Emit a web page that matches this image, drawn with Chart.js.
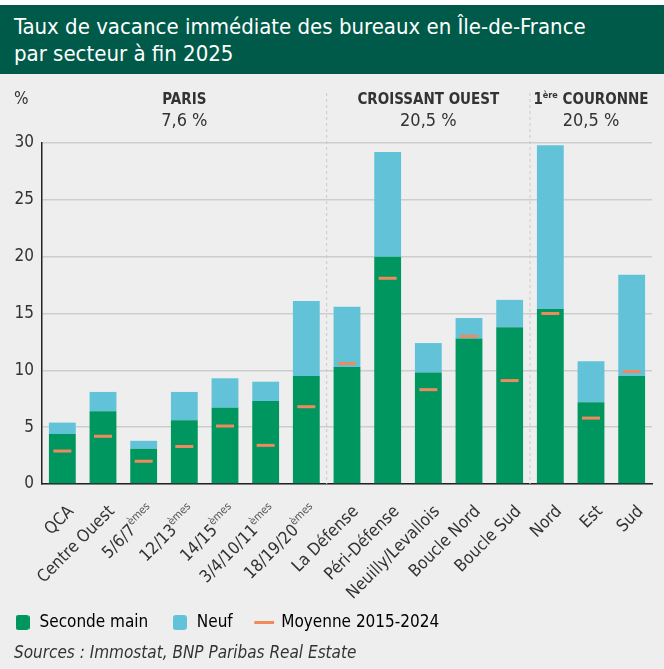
<!DOCTYPE html>
<html lang="fr">
<head>
<meta charset="utf-8">
<title>Taux de vacance immédiate des bureaux en Île-de-France</title>
<script src="https://cdn.jsdelivr.net/npm/chart.js@4.4.1/dist/chart.umd.min.js"></script>
<style>
  html, body { margin: 0; padding: 0; }
  body { width: 664px; height: 669px; background: #eeeeee; position: relative; overflow: hidden;
         font-family: "Liberation Sans Narrow", "DejaVu Sans Condensed", sans-serif; color: #333; }
  #top { position: absolute; left: 0; top: 0; width: 664px; height: 5px; background: #fff; }
  #header { position: absolute; left: 0; top: 5px; width: 664px; height: 69px; background: #005a49;
            color: #fff; font-size: 22px; line-height: 27px; box-sizing: border-box; padding: 8px 0 0 14px; }
  #wrap { position: absolute; left: 0; top: 74px; width: 664px; height: 580px; }
  #sources { position: absolute; left: 14px; top: 642px; font-size: 17px; font-style: italic; color: #333; }
</style>
</head>
<body>
<div id="top"></div>
<div id="header">Taux de vacance immédiate des bureaux en Île-de-France<br>par secteur à fin 2025</div>
<div id="wrap"><canvas id="chart"></canvas></div>
<div id="sources">Sources : Immostat, BNP Paribas Real Estate</div>
<script>
// secteurs
var secteurs = ['QCA', 'Centre Ouest', '5/6/7', '12/13', '14/15', '3/4/10/11', '18/19/20',
                'La Défense', 'Péri-Défense', 'Neuilly/Levallois', 'Boucle Nord', 'Boucle Sud',
                'Nord', 'Est', 'Sud'];
var exposants = ['', '', 'èmes', 'èmes', 'èmes', 'èmes', 'èmes', '', '', '', '', '', '', '', ''];

// taux en %
var secondeMain = [4.4, 6.4, 3.1, 5.6, 6.7, 7.3, 9.5, 10.3, 20.0, 9.8, 12.8, 13.8, 15.4, 7.2, 9.5];
var neuf        = [1.0, 1.7, 0.7, 2.5, 2.6, 1.7, 6.6, 5.3, 9.2, 2.6, 1.8, 2.4, 14.4, 3.6, 8.9];
var moyenne     = [2.9, 4.2, 2.0, 3.3, 5.1, 3.4, 6.8, 10.6, 18.1, 8.3, 13.0, 9.1, 15.0, 5.8, 9.9];

// groupes
var groupes    = ['PARIS', 'CROISSANT OUEST', 'COURONNE'];
var groupesPre = ['', '', '1'];
var groupesExp = ['', '', 'ère'];
var groupesTaux = ['7,6 %', '20,5 %', '20,5 %'];
var groupesDebut = [0, 7, 12];
var groupesFin   = [6, 11, 14];

var yTicks = [0, 5, 10, 15, 20, 25, 30];

var VERT = '#00965f';
var BLEU = '#62c3d8';
var ORANGE = '#ef8a5c';
var FONT = '"Liberation Sans Narrow", "DejaVu Sans Condensed", sans-serif';

function pastille(color) {
    var c = document.createElement('canvas');
    c.width = 14; c.height = 15;
    var g = c.getContext('2d');
    g.fillStyle = color;
    g.beginPath();
    g.roundRect(0, 0, 14, 15, 3);
    g.fill();
    return c;
}

var decor = {
    id: 'decor',
    beforeDatasetsDraw: function(chart) {
        var ctx = chart.ctx, x = chart.scales.x, a = chart.chartArea;
        ctx.save();
        ctx.strokeStyle = '#c9c9c9';
        ctx.lineWidth = 1;
        ctx.setLineDash([3, 3]);
        for (var g = 1; g < groupesDebut.length; g++) {
            var px = (x.getPixelForValue(groupesDebut[g]) + x.getPixelForValue(groupesDebut[g] - 1)) / 2;
            ctx.beginPath();
            ctx.moveTo(px, 19);
            ctx.lineTo(px, a.bottom);
            ctx.stroke();
        }
        ctx.restore();
    },
    afterDraw: function(chart) {
        var ctx = chart.ctx, x = chart.scales.x, a = chart.chartArea;
        ctx.save();
        ctx.fillStyle = '#333';
        // %
        ctx.font = '17px ' + FONT;
        ctx.textBaseline = 'middle';
        ctx.textAlign = 'left';
        ctx.fillText('%', 14, 26);
        // en-têtes de groupes
        for (var g = 0; g < groupes.length; g++) {
            var cx = (x.getPixelForValue(groupesDebut[g]) + x.getPixelForValue(groupesFin[g])) / 2;
            ctx.font = 'bold 15px ' + FONT;
            var wPre = ctx.measureText(groupesPre[g]).width;
            var wMain = ctx.measureText((groupesPre[g] ? ' ' : '') + groupes[g]).width;
            ctx.font = 'bold 9px ' + FONT;
            var wExp = ctx.measureText(groupesExp[g]).width;
            var sx = cx - (wPre + wExp + wMain) / 2;
            ctx.textAlign = 'left';
            ctx.font = 'bold 15px ' + FONT;
            ctx.fillText(groupesPre[g], sx, 26);
            ctx.font = 'bold 9px ' + FONT;
            ctx.fillText(groupesExp[g], sx + wPre, 22);
            ctx.font = 'bold 15px ' + FONT;
            ctx.fillText((groupesPre[g] ? ' ' : '') + groupes[g], sx + wPre + wExp, 26);
            ctx.font = '18px ' + FONT;
            ctx.textAlign = 'center';
            ctx.fillText(groupesTaux[g], cx, 47);
        }
        // libellés x inclinés
        for (var i = 0; i < secteurs.length; i++) {
            var px = x.getPixelForValue(i);
            ctx.save();
            ctx.translate(px + 9, a.bottom + 25);
            ctx.rotate(-Math.PI / 4);
            ctx.textBaseline = 'middle';
            ctx.textAlign = 'right';
            var wSup = 0;
            if (exposants[i]) {
                ctx.font = '11px ' + FONT;
                ctx.fillStyle = '#555';
                wSup = ctx.measureText(exposants[i]).width;
                ctx.fillText(exposants[i], 0, -6);
            }
            ctx.fillStyle = '#333';
            ctx.font = '17px ' + FONT;
            ctx.fillText(secteurs[i], -wSup, 0);
            ctx.restore();
        }
        ctx.restore();
    }
};

var ctx = document.getElementById('chart');

var chart = new Chart(ctx, {
    type: 'bar',
    data: {
        labels: secteurs,
        datasets: [
            {
                type: 'line',
                label: 'Moyenne 2015-2024',
                data: moyenne,
                stack: 'moy',
                showLine: false,
                pointStyle: 'line',
                pointRadius: 9,
                pointHoverRadius: 9,
                borderColor: ORANGE,
                backgroundColor: ORANGE,
                pointBorderWidth: 3,
                order: 0
            },
            {
                label: 'Seconde main',
                data: secondeMain,
                backgroundColor: VERT,
                stack: 'taux',
                barPercentage: 0.66,
                categoryPercentage: 1,
                order: 1
            },
            {
                label: 'Neuf',
                data: neuf,
                backgroundColor: BLEU,
                stack: 'taux',
                barPercentage: 0.66,
                categoryPercentage: 1,
                order: 1
            }
        ]
    },
    plugins: [decor],
    options: {
        responsive: true,
        maintainAspectRatio: false,
        animation: false,
        layout: { padding: { top: 69, right: 7, bottom: 13, left: -9 } },
        plugins: {
            tooltip: { enabled: false },
            legend: {
                position: 'bottom',
                align: 'start',
                labels: {
                    usePointStyle: true,
                    boxHeight: 14,
                    padding: 23,
                    color: '#333',
                    font: { family: FONT, size: 17 },
                    generateLabels: function(chart) {
                        return [
                            { text: 'Seconde main', pointStyle: pastille(VERT), fillStyle: VERT, strokeStyle: VERT, lineWidth: 0, datasetIndex: 1 },
                            { text: 'Neuf', pointStyle: pastille(BLEU), fillStyle: BLEU, strokeStyle: BLEU, lineWidth: 0, datasetIndex: 2 },
                            { text: 'Moyenne 2015-2024', pointStyle: 'line', fillStyle: ORANGE, strokeStyle: ORANGE, lineWidth: 3, datasetIndex: 0 }
                        ];
                    }
                }
            }
        },
        scales: {
            x: {
                grid: { display: false },
                border: { color: '#222', width: 1.5 },
                ticks: { display: false },
                afterFit: function(s) { s.height = 107; }
            },
            y: {
                stacked: true,
                min: 0,
                max: 30,
                afterBuildTicks: function(s) { s.ticks = yTicks.map(function(v) { return { value: v }; }); },
                afterFit: function(s) { s.width = 51; },
                grid: { color: '#cdcdcd', lineWidth: 1.5, drawTicks: false },
                border: { color: '#222', width: 1.5 },
                ticks: { padding: 8, color: '#333', font: { family: FONT, size: 17 } }
            }
        }
    }
});
</script>
</body>
</html>
